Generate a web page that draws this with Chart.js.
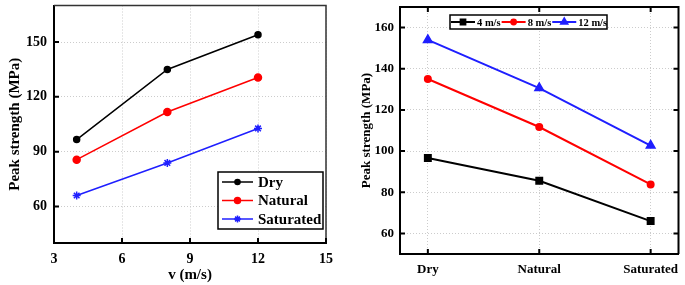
<!DOCTYPE html>
<html>
<head>
<meta charset="utf-8">
<script src="https://cdn.jsdelivr.net/npm/chart.js@4/dist/chart.umd.min.js"></script>
<style>
  body { margin: 0; background: #fff; }
  .wrap { display: flex; width: 685px; height: 285px; }
  canvas { display: block; }
</style>
</head>
<body>
<div class="wrap">
  <canvas id="speedChart" width="340" height="285"></canvas>
  <canvas id="conditionChart" width="345" height="285"></canvas>
</div>
<script>
// values (MPa)
const speeds = [4, 8, 12];
const speedLabels = ['4 m/s', '8 m/s', '12 m/s'];
const conditions = ['Dry', 'Natural', 'Saturated'];
const dryStrength = [96.6, 135, 154];
const naturalStrength = [85.6, 111.7, 130.6];
const saturatedStrength = [66, 83.8, 102.7];
const speedTicks = [3, 6, 9, 12, 15];
const leftStrengthTicks = [60, 90, 120, 150];
const rightStrengthTicks = [60, 80, 100, 120, 140, 160];

const serif = '"Liberation Serif", "Times New Roman", serif';
Chart.defaults.font.family = serif;
Chart.defaults.font.weight = 'bold';
Chart.defaults.color = '#000';

function drawMarker(ctx, ds, x, y, scale) {
    ctx.fillStyle = ds.borderColor;
    ctx.strokeStyle = ds.borderColor;
    const r = ds.pointRadius * scale;
    if (Chart.helpers && Chart.helpers.drawPoint) {
        Chart.helpers.drawPoint(ctx, { pointStyle: ds.pointStyle, radius: r, borderWidth: 1, rotation: 0 }, x, y);
    } else {
        ctx.beginPath();
        ctx.arc(x, y, r, 0, Math.PI * 2);
        ctx.fill();
    }
}

// box round the plot plus inward tick marks
const framePlugin = {
    id: 'frame',
    afterDatasetsDraw(chart, args, opts) {
        const { ctx, chartArea: a, scales } = chart;
        ctx.save();
        ctx.strokeStyle = opts.color;
        ctx.lineWidth = opts.width;
        ctx.beginPath();
        ctx.moveTo(a.left, a.top);
        ctx.lineTo(a.right, a.top);
        ctx.lineTo(a.right, a.bottom);
        ctx.stroke();

        const len = 5;
        ctx.strokeStyle = '#000';
        ctx.lineWidth = 2;
        ctx.beginPath();
        scales.x.ticks.forEach(t => {
            const px = scales.x.getPixelForValue(t.value);
            ctx.moveTo(px, a.bottom);
            ctx.lineTo(px, a.bottom - len);
            if (opts.mirror) {
                ctx.moveTo(px, a.top);
                ctx.lineTo(px, a.top + len);
            }
        });
        scales.y.ticks.forEach(t => {
            const py = scales.y.getPixelForValue(t.value);
            ctx.moveTo(a.left, py);
            ctx.lineTo(a.left + len, py);
            if (opts.mirror) {
                ctx.moveTo(a.right, py);
                ctx.lineTo(a.right - len, py);
            }
        });
        ctx.stroke();
        ctx.restore();
    }
};

// legend drawn in a framed box
const boxLegend = {
    id: 'boxLegend',
    afterDraw(chart, args, o) {
        const ctx = chart.ctx;
        ctx.save();
        ctx.fillStyle = '#fff';
        ctx.fillRect(o.x, o.y, o.w, o.h);
        ctx.strokeStyle = '#000';
        ctx.lineWidth = 1.5;
        ctx.strokeRect(o.x, o.y, o.w, o.h);
        ctx.font = 'bold ' + o.fontSize + 'px ' + serif;
        ctx.textBaseline = 'middle';
        let x = o.x + o.padX;
        let y = o.y + o.firstY;
        chart.data.datasets.forEach(ds => {
            ctx.strokeStyle = ds.borderColor;
            ctx.lineWidth = ds.borderWidth;
            ctx.beginPath();
            ctx.moveTo(x, y);
            ctx.lineTo(x + o.lineLen, y);
            ctx.stroke();
            drawMarker(ctx, ds, x + o.lineLen / 2, y, o.markerScale);
            ctx.fillStyle = '#000';
            ctx.fillText(ds.label, x + o.lineLen + o.gap, y + 1);
            if (o.horizontal) {
                x += o.lineLen + o.gap + ctx.measureText(ds.label).width + 1;
            } else {
                y += o.rowH;
            }
        });
        ctx.restore();
    }
};

const gridColor = '#cccccc';
const gridDash = [1, 2];

// fixed axis sizes, no extra room for half labels
function fixHeight(h) {
    return s => { s.height = h; s.paddingLeft = 0; s.paddingRight = 0; };
}
function fixWidth(w) {
    return s => { s.width = w; s.paddingTop = 0; s.paddingBottom = 0; };
}

// Left: strength against impact speed
new Chart(document.getElementById('speedChart'), {
    type: 'line',
    data: {
        datasets: [
            {
                label: 'Dry',
                data: speeds.map((v, i) => ({ x: v, y: dryStrength[i] })),
                borderColor: '#000', backgroundColor: '#000',
                borderWidth: 1.5, pointStyle: 'circle', pointRadius: 3
            },
            {
                label: 'Natural',
                data: speeds.map((v, i) => ({ x: v, y: naturalStrength[i] })),
                borderColor: '#ff0000', backgroundColor: '#ff0000',
                borderWidth: 1.5, pointStyle: 'circle', pointRadius: 3.5
            },
            {
                label: 'Saturated',
                data: speeds.map((v, i) => ({ x: v, y: saturatedStrength[i] })),
                borderColor: '#1f1fff', backgroundColor: '#1f1fff',
                borderWidth: 1.5, pointStyle: 'star', pointRadius: 4
            }
        ]
    },
    options: {
        responsive: false,
        animation: false,
        layout: { padding: { top: 5, right: 14, left: 0, bottom: 0 } },
        plugins: {
            legend: { display: false },
            tooltip: { enabled: false },
            frame: { color: '#333', width: 1.5, mirror: false },
            boxLegend: {
                x: 218, y: 172, w: 105, h: 57, padX: 4, firstY: 10, rowH: 18.5,
                lineLen: 31, gap: 5, fontSize: 15, markerScale: 0.85, horizontal: false
            }
        },
        scales: {
            x: {
                type: 'linear', min: 3, max: 15,
                afterBuildTicks: s => { s.ticks = speedTicks.map(v => ({ value: v })); },
                afterFit: fixHeight(42),
                grid: { color: gridColor, drawTicks: false },
                border: { color: '#000', width: 2, dash: gridDash },
                ticks: { padding: 8, font: { size: 14 }, maxRotation: 0, autoSkip: false },
                title: { display: true, text: 'v (m/s)', font: { size: 15 }, padding: { bottom: 1 } }
            },
            y: {
                min: 40, max: 170,
                afterBuildTicks: s => { s.ticks = leftStrengthTicks.map(v => ({ value: v })); },
                afterFit: fixWidth(54),
                grid: { color: gridColor, drawTicks: false },
                border: { color: '#000', width: 2, dash: gridDash },
                ticks: { padding: 7, font: { size: 14 }, autoSkip: false },
                title: { display: true, text: 'Peak strength (MPa)', font: { size: 15 }, padding: { top: 6 } }
            }
        }
    },
    plugins: [framePlugin, boxLegend]
});

// Right: strength against water condition
const bySpeed = speeds.map((_, i) => [dryStrength[i], naturalStrength[i], saturatedStrength[i]]);
const rightColors = ['#000', '#ff0000', '#1f1fff'];
const rightStyles = ['rect', 'circle', 'triangle'];
const rightRadius = [4.2, 3, 4.5];

new Chart(document.getElementById('conditionChart'), {
    type: 'line',
    data: {
        datasets: speedLabels.map((label, k) => ({
            label: label,
            data: bySpeed[k].map((v, i) => ({ x: i, y: v })),
            borderColor: rightColors[k], backgroundColor: rightColors[k],
            borderWidth: 2, pointStyle: rightStyles[k], pointRadius: rightRadius[k]
        }))
    },
    options: {
        responsive: false,
        animation: false,
        layout: { padding: { top: 7, right: 5, left: 0, bottom: 0 } },
        plugins: {
            legend: { display: false },
            tooltip: { enabled: false },
            frame: { color: '#000', width: 2, mirror: true },
            boxLegend: {
                x: 110, y: 15, w: 157, h: 14, padX: 1, firstY: 7, rowH: 0,
                lineLen: 24, gap: 2, fontSize: 10.5, markerScale: 0.8, horizontal: true
            }
        },
        scales: {
            x: {
                type: 'linear', min: -0.25, max: 2.25,
                afterBuildTicks: s => { s.ticks = conditions.map((c, i) => ({ value: i })); },
                afterFit: fixHeight(31),
                grid: { color: gridColor, drawTicks: false },
                border: { color: '#000', width: 2, dash: gridDash },
                ticks: {
                    padding: 8, font: { size: 13 }, maxRotation: 0, autoSkip: false,
                    callback: v => conditions[v] || ''
                }
            },
            y: {
                min: 50, max: 170,
                afterBuildTicks: s => { s.ticks = rightStrengthTicks.map(v => ({ value: v })); },
                afterFit: fixWidth(60),
                grid: { color: gridColor, drawTicks: false },
                border: { color: '#000', width: 2, dash: gridDash },
                ticks: { padding: 6, font: { size: 13 }, autoSkip: false },
                title: { display: true, text: 'Peak strength (MPa)', font: { size: 13 }, padding: { top: 19 } }
            }
        }
    },
    plugins: [framePlugin, boxLegend]
});
</script>
</body>
</html>
